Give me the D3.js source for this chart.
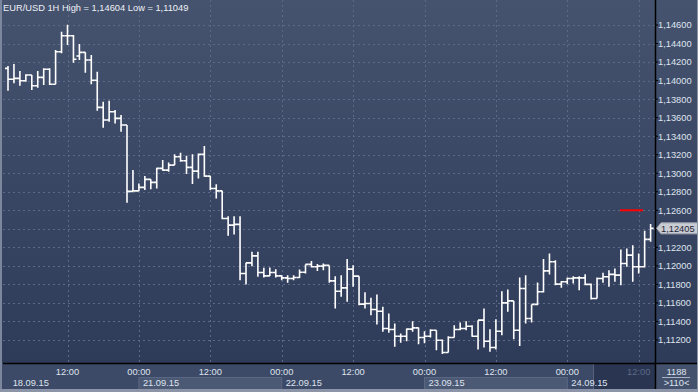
<!DOCTYPE html>
<html><head><meta charset="utf-8">
<script src="https://cdn.jsdelivr.net/npm/d3@7"></script>
<style>
html,body{margin:0;padding:0;background:#3a4764;}
svg{display:block;}
text{font-family:"Liberation Sans",Arial,sans-serif;}
</style></head>
<body>
<svg id="chart" width="698" height="392"></svg>
<script>
// ---- data ----
const title = "EUR/USD 1H High = 1,14604 Low = 1,11049";
const opens = [1.14132,1.14014,1.14024,1.13998,1.14060,1.13944,1.14035,1.14122,1.13960,1.14312,
1.14484,1.14484,1.14265,1.14305,1.14222,1.14003,1.13711,1.13574,1.13664,1.13592,
1.13520,1.12804,1.12810,1.12847,1.12934,1.12901,1.13052,1.13034,1.13088,1.13178,
1.13134,1.13063,1.13023,1.13204,1.12969,1.12836,1.12810,1.12512,1.12440,1.12448,
1.11918,1.12033,1.12108,1.11929,1.11892,1.11929,1.11892,1.11871,1.11864,1.11875,
1.11932,1.12016,1.11990,1.11997,1.12005,1.11838,1.11727,1.11763,1.11965,1.11889,
1.11587,1.11594,1.11530,1.11511,1.11324,1.11314,1.11241,1.11241,1.11317,1.11331,
1.11227,1.11241,1.11306,1.11198,1.11065,1.11227,1.11314,1.11324,1.11349,1.11241,
1.11414,1.11187,1.11119,1.11295,1.11601,1.11622,1.11306,1.11756,1.11432,1.11584,
1.11720,1.11946,1.12044,1.11803,1.11828,1.11864,1.11871,1.11871,1.11800,1.11648,
1.11864,1.11882,1.11908,1.11900,1.12026,1.12116,1.11990,1.11990,1.12286];
const highs = [1.14157,1.14179,1.14103,1.14068,1.14060,1.14103,1.14132,1.14132,1.14330,1.14528,
1.14604,1.14492,1.14395,1.14305,1.14276,1.14096,1.13772,1.13782,1.13682,1.13628,
1.13520,1.13034,1.12890,1.12969,1.12934,1.13059,1.13142,1.13117,1.13204,1.13221,
1.13188,1.13204,1.13214,1.13293,1.12969,1.12880,1.12810,1.12537,1.12537,1.12537,
1.12033,1.12152,1.12152,1.11979,1.11983,1.11965,1.11900,1.11900,1.11900,1.11962,
1.12016,1.12054,1.12019,1.12026,1.12005,1.11889,1.11900,1.12073,1.12008,1.11889,
1.11716,1.11655,1.11692,1.11558,1.11486,1.11378,1.11270,1.11324,1.11403,1.11335,
1.11295,1.11317,1.11306,1.11206,1.11241,1.11360,1.11389,1.11403,1.11360,1.11414,
1.11540,1.11317,1.11425,1.11727,1.11746,1.11622,1.11875,1.11900,1.11584,1.11821,
1.12073,1.12134,1.12062,1.11838,1.11875,1.11889,1.11889,1.11911,1.11810,1.11875,
1.11925,1.11954,1.11972,1.12178,1.12188,1.12224,1.12134,1.12378,1.12451];
const lows = [1.13890,1.13970,1.13944,1.13988,1.13898,1.13923,1.13952,1.13952,1.13960,1.14294,
1.14384,1.14193,1.14222,1.14085,1.13960,1.13674,1.13491,1.13556,1.13538,1.13448,
1.12681,1.12800,1.12807,1.12818,1.12826,1.12836,1.13026,1.13016,1.13088,1.13124,
1.12991,1.12883,1.12944,1.12962,1.12818,1.12728,1.12502,1.12324,1.12340,1.11846,
1.11800,1.11997,1.11882,1.11875,1.11892,1.11875,1.11846,1.11817,1.11846,1.11868,
1.11918,1.11983,1.11946,1.11954,1.11817,1.11540,1.11666,1.11612,1.11774,1.11576,
1.11540,1.11468,1.11368,1.11288,1.11277,1.11126,1.11169,1.11187,1.11288,1.11155,
1.11166,1.11227,1.11090,1.11049,1.11065,1.11227,1.11306,1.11306,1.11234,1.11098,
1.11119,1.11072,1.11098,1.11252,1.11504,1.11209,1.11136,1.11378,1.11389,1.11576,
1.11713,1.11908,1.11792,1.11763,1.11803,1.11810,1.11738,1.11792,1.11638,1.11648,
1.11817,1.11774,1.11828,1.11792,1.11990,1.11828,1.11918,1.11983,1.12260];
const closes = [1.14014,1.14024,1.13998,1.14060,1.13944,1.14035,1.14122,1.13960,1.14312,1.14484,
1.14484,1.14230,1.14305,1.14222,1.14003,1.13711,1.13574,1.13664,1.13592,1.13520,
1.12804,1.12810,1.12847,1.12934,1.12901,1.13052,1.13034,1.13088,1.13178,1.13134,
1.13063,1.13023,1.13204,1.12969,1.12836,1.12810,1.12512,1.12440,1.12448,1.11918,
1.12033,1.12108,1.11929,1.11892,1.11929,1.11892,1.11871,1.11864,1.11875,1.11932,
1.12016,1.11990,1.11997,1.12005,1.11838,1.11727,1.11763,1.11965,1.11889,1.11587,
1.11594,1.11530,1.11511,1.11324,1.11314,1.11241,1.11241,1.11317,1.11331,1.11227,
1.11241,1.11306,1.11198,1.11065,1.11227,1.11314,1.11324,1.11349,1.11241,1.11414,
1.11187,1.11119,1.11295,1.11601,1.11622,1.11306,1.11756,1.11432,1.11584,1.11720,
1.11946,1.12044,1.11803,1.11828,1.11864,1.11871,1.11871,1.11800,1.11648,1.11864,
1.11882,1.11908,1.11900,1.12026,1.12116,1.11990,1.11990,1.12286,1.12405];
const priceTicks = [1.112,1.114,1.116,1.118,1.120,1.122,1.124,1.126,1.128,1.130,1.132,1.134,1.136,1.138,1.140,1.142,1.144,1.146];
const timeTickIndex = [10,22,34,46,58,70,82,94,106];
const timeTickLabels = ["12:00","00:00","12:00","00:00","12:00","00:00","12:00","00:00","12:00"];
const dateIndex = [-2,22,46,70,94];
const dateLabels = ["18.09.15","21.09.15","22.09.15","23.09.15","24.09.15"];
const lastPrice = 1.12405;
const orderLevel = 1.12600;
const barCountLabel = "1188";
const visibleLabel = ">110<";

// ---- layout ----
const W = 698, H = 392;
const plotL = 3, plotR = 655, plotB = 363;
const svg = d3.select("#chart");
const n = closes.length;
const x = d3.scaleLinear().domain([0, n - 1]).range([8, 650.6]);
const y = d3.scaleLinear().domain([1.112, 1.146]).range([340, 25]);
const fmt = v => d3.format(".5f")(v).replace(".", ",");

const defs = svg.append("defs");
const g1 = defs.append("linearGradient").attr("id","bg").attr("x1",0).attr("y1",0).attr("x2",0).attr("y2",1);
g1.append("stop").attr("offset","0%").attr("stop-color","#46536f");
g1.append("stop").attr("offset","100%").attr("stop-color","#2c3957");
defs.append("clipPath").attr("id","plotclip").append("rect")
  .attr("x",plotL).attr("y",0).attr("width",plotR-plotL).attr("height",plotB);

// background
svg.append("rect").attr("x",0).attr("y",0).attr("width",W).attr("height",H).attr("fill","url(#bg)");
// axis strip
svg.append("rect").attr("x",0).attr("y",plotB).attr("width",W).attr("height",H-plotB).attr("fill","#3d4a67");
// alternating date bands
[1,3].forEach(k=>{
  const x0 = x(dateIndex[k]), x1 = x(dateIndex[k+1]);
  svg.append("rect").attr("x",x0).attr("y",377.5).attr("width",x1-x0).attr("height",12)
    .attr("fill","#4c5975").attr("stroke","#5a6782").attr("stroke-width",1);
});
// dark future region in axis
svg.append("rect").attr("x",593).attr("y",plotB).attr("width",plotR-593).attr("height",H-plotB-3).attr("fill","#2a3552");
svg.append("line").attr("x1",593.5).attr("x2",593.5).attr("y1",plotB).attr("y2",H-3).attr("stroke","#56627c");
// right box
svg.append("rect").attr("x",plotR).attr("y",plotB).attr("width",W-plotR).attr("height",H-plotB).attr("fill","#44516d");

// grid
const grid = svg.append("g").attr("stroke","#5c6a88").attr("stroke-width",1).attr("stroke-dasharray","2,3");
grid.selectAll("line.h").data(priceTicks).join("line")
  .attr("x1",plotL).attr("x2",plotR).attr("y1",d=>Math.round(y(d))+0.5).attr("y2",d=>Math.round(y(d))+0.5);
grid.selectAll("line.v").data(timeTickIndex).join("line")
  .attr("y1",0).attr("y2",plotB).attr("x1",d=>Math.round(x(d))+0.5).attr("x2",d=>Math.round(x(d))+0.5);

// bars
const bars = svg.append("g").attr("clip-path","url(#plotclip)").attr("stroke","#ffffff").attr("stroke-width",1.6).attr("fill","none");
const idx = d3.range(n);
bars.selectAll("path").data(idx).join("path")
  .attr("d", i => {
    const cx = x(i);
    return `M${cx},${y(highs[i])}V${y(lows[i])}M${cx-3},${y(opens[i])}H${cx}M${cx},${y(closes[i])}H${cx+3}`;
  });

// order level
svg.append("line").attr("x1",620).attr("x2",643).attr("y1",y(orderLevel)).attr("y2",y(orderLevel))
  .attr("stroke","#ff0000").attr("stroke-width",2);

// axes lines
svg.append("line").attr("x1",plotL).attr("x2",W).attr("y1",plotB+0.5).attr("y2",plotB+0.5).attr("stroke","#000").attr("stroke-width",1.5);
svg.append("line").attr("x1",plotR+0.5).attr("x2",plotR+0.5).attr("y1",0).attr("y2",H-3).attr("stroke","#000").attr("stroke-width",1.5);

// right axis ticks & labels (the label under the last-price tag is hidden by the tag)
const ly = y(lastPrice);
const shownTicks = priceTicks.filter(d => Math.abs(y(d) - ly) > 8);
const ya = svg.append("g");
ya.selectAll("line").data(priceTicks).join("line")
  .attr("x1",plotR).attr("x2",plotR+3).attr("y1",d=>y(d)).attr("y2",d=>y(d)).attr("stroke","#000");
ya.selectAll("text").data(shownTicks).join("text")
  .attr("x",658).attr("y",d=>y(d)+3.4).attr("font-size","9.3px").attr("fill","#dfe4ee").text(fmt);

// last price tag
svg.append("path").attr("d",`M656.5,${ly}L661,${ly-5.5}H698V${ly+5.5}H661Z`).attr("fill","#c9ccd3").attr("stroke","#9da3ae");
svg.append("text").attr("x",661).attr("y",ly+3.4).attr("font-size","9.3px").attr("fill","#1f2533").text(fmt(lastPrice));

// time axis labels
svg.append("g").selectAll("text").data(timeTickIndex).join("text")
  .attr("x",d=>x(d)).attr("y",374.5).attr("text-anchor","middle").attr("font-size","9.3px")
  .attr("fill",(d,i)=> i===timeTickIndex.length-1 ? "#5d6a86" : "#dfe4ee")
  .text((d,i)=>timeTickLabels[i]);
svg.append("g").selectAll("text").data(dateIndex).join("text")
  .attr("x",(d,i)=> i===0 ? 12.7 : x(d)+4).attr("y",385.5).attr("font-size","9.3px").attr("fill","#dfe4ee")
  .text((d,i)=>dateLabels[i]);

// right box labels
svg.append("text").attr("x",676.5).attr("y",374.5).attr("text-anchor","middle").attr("font-size","9.3px").attr("fill","#dfe4ee").text(barCountLabel);
svg.append("line").attr("x1",662).attr("x2",690).attr("y1",377.5).attr("y2",377.5).attr("stroke","#aab3c4");
svg.append("text").attr("x",676.5).attr("y",386).attr("text-anchor","middle").attr("font-size","9.3px").attr("fill","#dfe4ee").text(visibleLabel);

// title
svg.append("text").attr("x",3).attr("y",11.3).attr("font-size","9.3px").attr("fill","#eef1f6").text(title);

// frame
svg.append("rect").attr("x",0).attr("y",0).attr("width",2).attr("height",H).attr("fill","#7c879d");
svg.append("rect").attr("x",0).attr("y",H-3).attr("width",W).attr("height",3).attr("fill","#8c95a8");
svg.append("rect").attr("x",W-1).attr("y",0).attr("width",1).attr("height",H).attr("fill","#8c95a8");
</script>
</body></html>
